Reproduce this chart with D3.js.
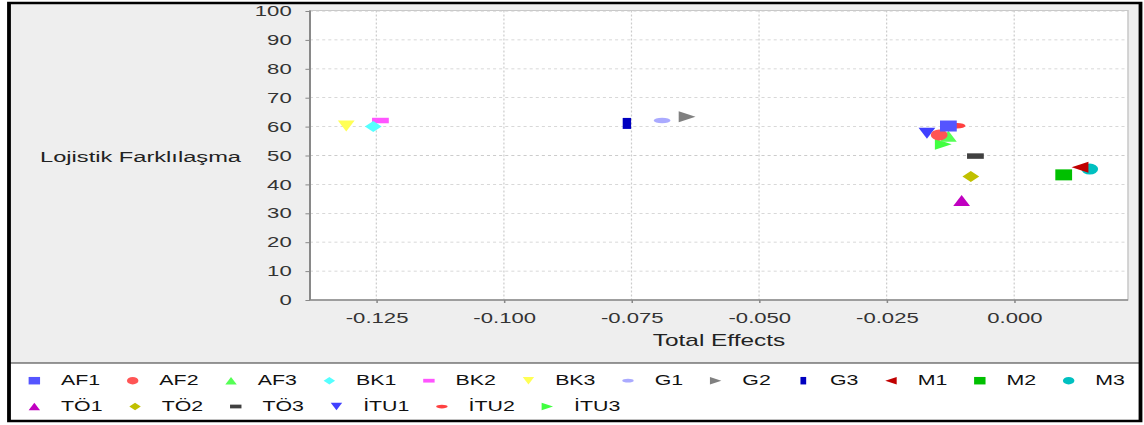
<!DOCTYPE html>
<html><head><meta charset="utf-8">
<script src="https://cdn.jsdelivr.net/npm/d3@7"></script>
<style>html,body{margin:0;padding:0;background:#fff;} svg{display:block;}</style>
</head><body><svg id="chart" width="1144" height="425"></svg>
<script>
// ---------- data ----------
const seriesNames = ["AF1","AF2","AF3","BK1","BK2","BK3","G1","G2","G3","M1","M2","M3","TÖ1","TÖ2","TÖ3","İTU1","İTU2","İTU3"];
const totalEffects = [-0.0129,-0.0147,-0.0129,-0.1256,-0.1242,-0.1309,-0.0690,-0.0641,-0.0759,0.0129,0.0097,0.0148,-0.0103,-0.0085,-0.0076,-0.0171,-0.0112,-0.0139];
const lojistikFarklilasma = [60.2,57.1,56.7,60.0,62.1,60.2,62.1,63.4,61.1,45.9,43.3,45.3,34.4,42.7,49.8,57.7,60.3,53.9];
const seriesColors = ["#5555ff","#ff5555","#55ff55","#55ffff","#ff55ff","#ffff55","#aaaaff","#808080","#0000c0","#c00000","#00c000","#00c0c0","#c000c0","#c0c000","#404040","#4040ff","#ff4040","#40ff40"];
const seriesShapes = ["square","circle","triangleUp","diamond","rectH","triangleDown","ellipseH","triangleRight","rectV","triangleLeft","square","circle","triangleUp","diamond","rectH","triangleDown","ellipseH","triangleRight"];
const xTicks = [-0.125,-0.1,-0.075,-0.05,-0.025,0];
const xTickLabels = ["-0.125","-0.100","-0.075","-0.050","-0.025","0.000"];
const yTicks = [0,10,20,30,40,50,60,70,80,90,100];
const yTickLabels = ["0","10","20","30","40","50","60","70","80","90","100"];
const xDomain = [-0.138, 0.0223];
const yDomain = [0, 100];
const xTitle = "Total Effects";
const yTitle = "Lojistik Farklılaşma";

// ---------- layout ----------
const K = 1144/750;            // horizontal stretch of the whole picture
const X = v => v / K;          // real px -> inner px
const FONT = "'Liberation Sans', Arial, sans-serif";
const plot = {l: X(310), r: X(1128), t: 10.5, b: 300};

const svg = d3.select("#chart");
const root = svg.append("g").attr("transform", `scale(${K},1)`);

// frame background
root.append("rect").attr("x", X(9)).attr("y", 3).attr("width", X(1140.5)-X(9)).attr("height", 360)
  .attr("fill", "#eeeeee");

// plot background
root.append("rect").attr("x", plot.l).attr("y", plot.t).attr("width", plot.r-plot.l).attr("height", plot.b-plot.t)
  .attr("fill", "#fff").attr("stroke", "#c8c8c8").attr("stroke-width", 1);

const x = d3.scaleLinear().domain(xDomain).range([plot.l, plot.r]);
const y = d3.scaleLinear().domain(yDomain).range([plot.b, 11]);

// gridlines
const grid = root.append("g").attr("stroke", "#cccccc").attr("stroke-width", 0.8).attr("stroke-dasharray", "2,2");
grid.selectAll("line.h").data(yTicks.filter(d => d > 0)).join("line").attr("class","h")
  .attr("x1", plot.l).attr("x2", plot.r).attr("y1", d => y(d)).attr("y2", d => y(d));
grid.selectAll("line.v").data(xTicks).join("line").attr("class","v")
  .attr("y1", plot.t).attr("y2", plot.b).attr("x1", d => x(d)).attr("x2", d => x(d));

// axes
const yAxis = d3.axisLeft(y).tickValues(yTicks).tickFormat((d,i) => yTickLabels[i])
  .tickSize(3).tickSizeOuter(0).tickPadding(9);
const gy = root.append("g").attr("transform", `translate(${plot.l},0)`).call(yAxis);
const xAxis = d3.axisBottom(x).tickValues(xTicks).tickFormat((d,i) => xTickLabels[i])
  .tickSize(3).tickSizeOuter(0).tickPadding(10);
const gx = root.append("g").attr("transform", `translate(0,${plot.b})`).call(xAxis);
[gx, gy].forEach(g => {
  g.attr("font-family", FONT).attr("font-size", 14.5);
  g.select(".domain").attr("stroke", "#888").attr("stroke-width", 1.3);
  g.selectAll(".tick line").attr("stroke", "#888").attr("stroke-width", 1);
  g.selectAll(".tick text").attr("fill", "#333");
});
gx.select(".domain").attr("d", `M${plot.l},0H${plot.r}`);
gy.select(".domain").attr("d", `M0,${plot.t}V${plot.b}`);

// axis titles
root.append("text").attr("x", (plot.l+plot.r)/2).attr("y", 346).attr("text-anchor", "middle")
  .attr("font-family", FONT).attr("font-size", 16).attr("fill", "#222").text(xTitle);
root.append("text").attr("x", X(241)).attr("y", 162).attr("text-anchor", "end")
  .attr("font-family", FONT).attr("font-size", 15.5).attr("fill", "#222").text(yTitle);

// shapes
function ellipsePath(rx, ry){ return `M${-rx},0A${rx},${ry} 0 1,0 ${rx},0A${rx},${ry} 0 1,0 ${-rx},0Z`; }
function shapePath(type, s){
  const h = s/2;
  switch(type){
    case "square": return `M${-h},${-h}h${s}v${s}h${-s}Z`;
    case "circle": return ellipsePath(h, h);
    case "triangleUp": return `M0,${-h}L${h},${h}L${-h},${h}Z`;
    case "triangleDown": return `M0,${h}L${h},${-h}L${-h},${-h}Z`;
    case "triangleRight": return `M${h},0L${-h},${-h}L${-h},${h}Z`;
    case "triangleLeft": return `M${-h},0L${h},${-h}L${h},${h}Z`;
    case "diamond": return `M0,${-h}L${h},0L0,${h}L${-h},0Z`;
    case "rectH": return `M${-h},${-h/2}h${s}v${h}h${-s}Z`;
    case "rectV": return `M${-h/2},${-h}h${h}v${s}h${-h}Z`;
    case "ellipseH": return ellipsePath(h, h/2);
  }
}

// points (series 0 on top -> draw in reverse)
const points = seriesNames.map((n,i) => ({name:n, x: totalEffects[i], y: lojistikFarklilasma[i], color: seriesColors[i], shape: seriesShapes[i]}));
root.append("g").selectAll("path").data(points.slice().reverse()).join("path")
  .attr("transform", d => `translate(${x(d.x)},${y(d.y)})`)
  .attr("d", d => shapePath(d.shape, 11))
  .attr("fill", d => d.color);

// legend
root.append("rect").attr("x", X(9)).attr("y", 363).attr("width", X(1140.5)-X(9)).attr("height", 58)
  .attr("fill", "#fff").attr("stroke", "#333").attr("stroke-width", 1);
const legend = root.append("g");
const rowY = [380.7, 406.5];
let cx = X(29), row = 0;
points.forEach((d, i) => {
  if (i === 12) { row = 1; cx = X(29); }
  const g = legend.append("g").attr("transform", `translate(${cx},${rowY[row]})`);
  g.append("path").attr("transform", "translate(3.5,0)").attr("d", shapePath(d.shape, 7.5)).attr("fill", d.color);
  const t = g.append("text").attr("x", 21).attr("y", 4.7).attr("font-family", FONT).attr("font-size", 14)
    .attr("fill", "#111").text(d.name);
  cx += 21 + t.node().getComputedTextLength() + 17.8;
});

// outer frame
root.append("rect").attr("x", X(9)).attr("y", 3).attr("width", X(1140.5)-X(9)).attr("height", 418)
  .attr("fill", "none").attr("stroke", "#000").attr("stroke-width", 2.5);
</script></body></html>
